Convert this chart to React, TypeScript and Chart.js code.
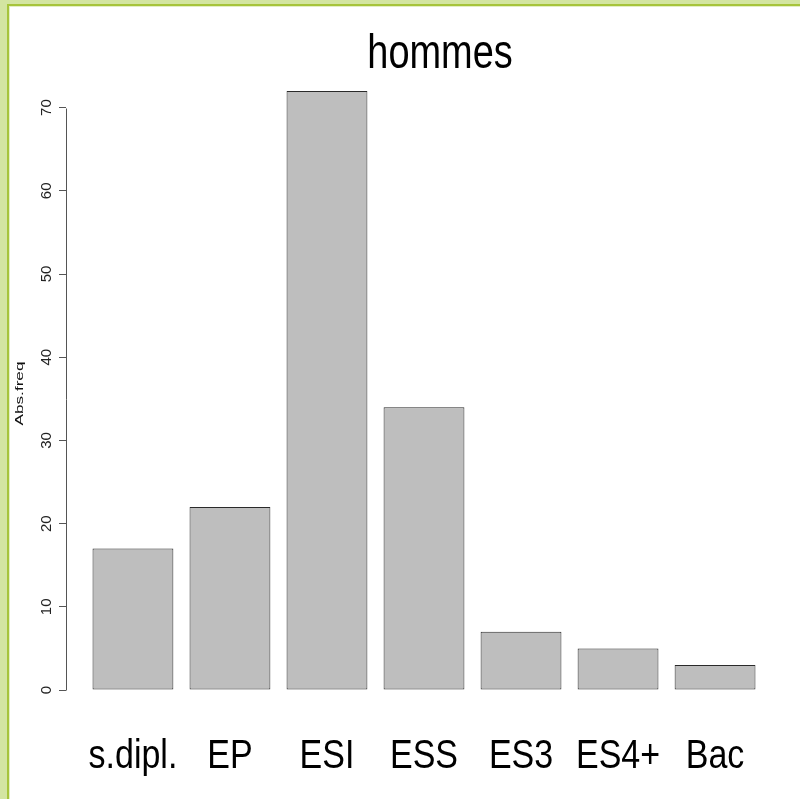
import React, { useEffect, useRef } from 'react';
import { Chart, registerables } from 'chart.js';

Chart.register(...registerables);

const TITLE = 'hommes';
const Y_LABEL = 'Abs.freq';
const categories = ['s.dipl.', 'EP', 'ESI', 'ESS', 'ES3', 'ES4+', 'Bac'];
const values = [17, 22, 72, 34, 7, 5, 3];
const yTicks = [0, 10, 20, 30, 40, 50, 60, 70];

// R barplot geometry (width = 1, space = 0.2, 4% axis expansion)
const BAR_WIDTH = 1;
const BAR_SPACE = 0.2;
const mids = categories.map((_, i) => BAR_SPACE + BAR_WIDTH / 2 + i * (BAR_WIDTH + BAR_SPACE));
const xLo = BAR_SPACE;
const xHi = categories.length * (BAR_WIDTH + BAR_SPACE);
const xPad = (xHi - xLo) * 0.04;
const yMaxData = Math.max(...values);
const yPad = yMaxData * 0.04;

const SANS = '"Liberation Sans", Arial, sans-serif';

// draws text squeezed/stretched along its own x direction
function drawScaledText(ctx: any, text: string, x: number, y: number, sx: number, sy: number, rot = 0) {
  ctx.save();
  ctx.translate(x, y);
  if (rot) ctx.rotate(rot);
  ctx.scale(sx, sy);
  ctx.fillText(text, 0, 0);
  ctx.restore();
}

const rAxisLine = {
  id: 'rAxisLine',
  afterDraw(chart: any) {
    const { ctx, chartArea, scales } = chart;
    const y = scales.y;
    const x = Math.round(chartArea.left) + 0.5;
    ctx.save();
    ctx.strokeStyle = '#555555';
    ctx.lineWidth = 1;
    ctx.beginPath();
    ctx.moveTo(x, Math.round(y.getPixelForValue(yTicks[0])) + 0.5);
    ctx.lineTo(x, Math.round(y.getPixelForValue(yTicks[yTicks.length - 1])) + 0.5);
    ctx.stroke();
    ctx.restore();
  },
};

const rTexts = {
  id: 'rTexts',
  afterDraw(chart: any) {
    const { ctx, scales, chartArea } = chart;
    ctx.save();
    ctx.fillStyle = '#000000';
    ctx.textAlign = 'center';
    ctx.textBaseline = 'alphabetic';
    // main title
    ctx.font = `48px ${SANS}`;
    drawScaledText(ctx, TITLE, 440, 68, 0.79, 1);
    // category labels under the bars
    ctx.font = `40px ${SANS}`;
    categories.forEach((c, i) => {
      const px = scales.x.getPixelForValue(mids[i]);
      drawScaledText(ctx, c, px, 768, 0.85, 1);
    });
    // y axis title
    ctx.fillStyle = '#111111';
    ctx.font = `11px ${SANS}`;
    ctx.textBaseline = 'middle';
    const cy = (chartArea.top + chartArea.bottom) / 2 + 3;
    drawScaledText(ctx, Y_LABEL, 20, cy, 1.56, 1, -Math.PI / 2);
    ctx.restore();
  },
};

export default function App() {
  const canvasRef = useRef<HTMLCanvasElement | null>(null);

  useEffect(() => {
    if (!canvasRef.current) return;
    const chart = new Chart(canvasRef.current, {
      type: 'bar',
      data: {
        datasets: [
          {
            label: Y_LABEL,
            data: categories.map((c, i) => ({ x: mids[i], y: values[i] })),
            backgroundColor: '#bebebe',
            borderColor: '#2a2a2a',
            borderWidth: 1,
            borderSkipped: false,
            barPercentage: BAR_WIDTH / (BAR_WIDTH + BAR_SPACE),
            categoryPercentage: 1,
          },
        ],
      },
      options: {
        responsive: false,
        animation: false,
        devicePixelRatio: 1,
        layout: { padding: { left: 0, right: 18, top: 67, bottom: 0 } },
        plugins: {
          legend: { display: false },
          tooltip: { enabled: false },
          title: { display: false },
        },
        scales: {
          x: {
            type: 'linear',
            offset: false,
            min: xLo - xPad,
            max: xHi + xPad,
            grid: { display: false },
            border: { display: false },
            afterBuildTicks: (scale: any) => {
              scale.ticks = mids.map((v) => ({ value: v }));
            },
            afterFit: (scale: any) => {
              scale.height = 85;
            },
            ticks: {
              display: false,
              autoSkip: false,
              callback: (_v: any, i: number) => categories[i],
            },
          },
          y: {
            type: 'linear',
            min: -yPad,
            max: yMaxData + yPad,
            afterBuildTicks: (scale: any) => {
              scale.ticks = yTicks.map((v) => ({ value: v }));
            },
            afterFit: (scale: any) => {
              scale.width = 66;
            },
            border: { display: false },
            grid: {
              display: true,
              drawOnChartArea: false,
              drawTicks: true,
              tickLength: 7,
              color: '#555555',
            },
            ticks: {
              minRotation: 90,
              maxRotation: 90,
              crossAlign: 'center',
              padding: 4,
              color: '#222222',
              font: { family: SANS, size: 15 },
            },
            title: { display: false },
          },
        },
      },
      plugins: [rAxisLine, rTexts],
    });
    return () => chart.destroy();
  }, []);

  const light = '#d3e5a1';
  const dark = '#a6c43b';
  const inner = '#e3efc3';

  return (
    <div style={{ position: 'absolute', left: 0, top: 0, width: 800, height: 799, background: '#ffffff', overflow: 'hidden' }}>
      <canvas ref={canvasRef} width={800} height={799} style={{ display: 'block', position: 'absolute', left: 0, top: 0 }} />
      <div style={{ position: 'absolute', left: 0, top: 0, width: 800, height: 4, background: light }} />
      <div style={{ position: 'absolute', left: 0, top: 0, width: 7, height: 799, background: light }} />
      <div style={{ position: 'absolute', left: 7, top: 4, width: 793, height: 2, background: dark }} />
      <div style={{ position: 'absolute', left: 7, top: 4, width: 2, height: 795, background: dark }} />
      <div style={{ position: 'absolute', left: 9, top: 6, width: 791, height: 1, background: inner }} />
      <div style={{ position: 'absolute', left: 9, top: 6, width: 1, height: 793, background: inner }} />
    </div>
  );
}
